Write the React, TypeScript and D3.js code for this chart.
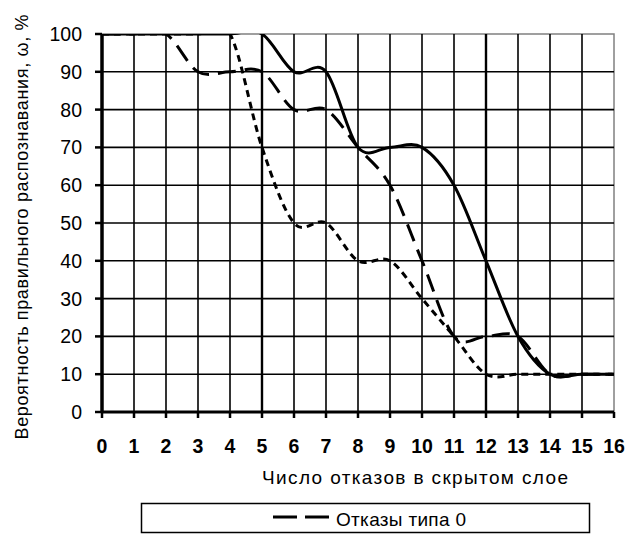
import React from "react";
import * as d3 from "d3";

const xValues = [0, 1, 2, 3, 4, 5, 6, 7, 8, 9, 10, 11, 12, 13, 14, 15, 16];
const solidSeries = [100, 100, 100, 100, 100, 100, 90, 90, 70, 70, 70, 60, 40, 20, 10, 10, 10];
const longDashSeries = [100, 100, 100, 90, 90, 90, 80, 80, 70, 60, 40, 20, 20, 20, 10, 10, 10];
const shortDashSeries = [100, 100, 100, 100, 100, 70, 50, 50, 40, 40, 30, 20, 10, 10, 10, 10, 10];
const yTicks = [0, 10, 20, 30, 40, 50, 60, 70, 80, 90, 100];
const xTicks = xValues;
const xTitle = "Число отказов в скрытом слое";
const yTitle = "Вероятность правильного распознавания, ω, %";
const legendLabel = "Отказы типа 0";

const W = 639;
const H = 536;
const left = 102;
const right = 614;
const top = 34;
const bottom = 412;

export default function App() {
  const x = d3.scaleLinear().domain([0, 16]).range([left, right]);
  const y = d3.scaleLinear().domain([0, 100]).range([bottom, top]);
  const line = d3
    .line<number>()
    .x((_, i) => x(xValues[i]))
    .y((d) => y(d))
    .curve(d3.curveCardinal.tension(0));

  const font = "'Liberation Sans', Arial, sans-serif";

  return (
    <svg
      width={W}
      height={H}
      viewBox={`0 0 ${W} ${H}`}
      style={{ position: "absolute", left: 0, top: 0, background: "#fff" }}
    >
      <defs>
        <clipPath id="plotclip">
          <rect x={left} y={top} width={right - left} height={bottom - top} />
        </clipPath>
      </defs>
      <rect x={0} y={0} width={W} height={H} fill="#fff" />
      <rect x={left} y={top} width={right - left} height={bottom - top} fill="none" stroke="#808080" strokeWidth={1.5} />
      {yTicks.filter((t) => t > 0 && t < 100).map((t) => (
        <line key={"h" + t} x1={left} x2={right} y1={y(t)} y2={y(t)} stroke="#000" strokeWidth={1.6} />
      ))}
      {xTicks.filter((t) => t > 0 && t < 16).map((t) => (
        <line
          key={"v" + t}
          x1={x(t)}
          x2={x(t)}
          y1={top}
          y2={bottom}
          stroke="#000"
          strokeWidth={t === 5 || t === 12 ? 2.4 : 1.6}
        />
      ))}
      <g clipPath="url(#plotclip)" fill="none" stroke="#000" strokeLinejoin="round">
        <path d={line(shortDashSeries) || ""} strokeWidth={3} strokeDasharray="7 5" />
        <path d={line(longDashSeries) || ""} strokeWidth={3} strokeDasharray="18 9" />
        <path d={line(solidSeries) || ""} strokeWidth={3} />
      </g>
      <line x1={left} x2={left} y1={top} y2={bottom} stroke="#000" strokeWidth={3.5} />
      <line x1={left} x2={right} y1={bottom} y2={bottom} stroke="#000" strokeWidth={3} />
      {yTicks.map((t) => (
        <g key={"yt" + t}>
          <line x1={left - 7} x2={left} y1={y(t)} y2={y(t)} stroke="#000" strokeWidth={2.5} />
          <text x={82} y={y(t) + 7} textAnchor="end" fontFamily={font} fontSize={19.5} fill="#000">
            {t}
          </text>
        </g>
      ))}
      {xTicks.map((t) => (
        <g key={"xt" + t}>
          <line x1={x(t)} x2={x(t)} y1={bottom} y2={bottom + 6} stroke="#000" strokeWidth={2.5} />
          <text x={x(t)} y={453} textAnchor="middle" fontFamily={font} fontSize={19.5} fontWeight="bold" fill="#000">
            {t}
          </text>
        </g>
      ))}
      <text x={415} y={484} textAnchor="middle" fontFamily={font} fontSize={19} textLength={306} fill="#000">
        {xTitle}
      </text>
      <text
        transform={`translate(28,227) rotate(-90)`}
        textAnchor="middle"
        fontFamily={font}
        fontSize={18}
        textLength={425}
        fill="#000"
      >
        {yTitle}
      </text>
      <rect x={141.5} y={503.5} width={448} height={29} fill="#fff" stroke="#000" strokeWidth={1.5} />
      <line x1={273} x2={330} y1={517} y2={517} stroke="#000" strokeWidth={3} strokeDasharray="24 8" />
      <text x={336} y={526} fontFamily={font} fontSize={19} textLength={130} fill="#000">
        {legendLabel}
      </text>
    </svg>
  );
}
